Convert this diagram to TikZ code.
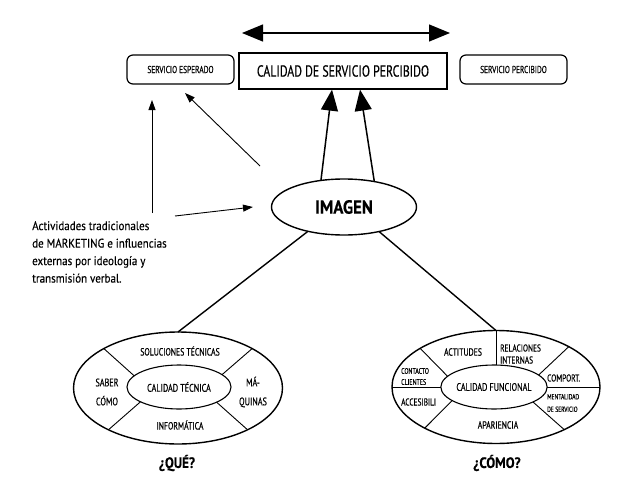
\documentclass[tikz,border=0pt]{standalone}
\usepackage{fontspec}
\setmainfont{PT Sans}
\newfontfamily\narrowfont{PT Sans}[FakeStretch=0.74,FakeBold=0.4]
\newfontfamily\slimfont{PT Sans}[FakeStretch=0.88,FakeBold=0.3]
\usetikzlibrary{arrows.meta,shapes.geometric,calc}

\tikzset{
  bigtip/.style={-{Triangle[length=21pt,width=17pt]}, line width=1.5pt},
  thintip/.style={-{Triangle[length=10pt,width=7pt]}, line width=0.9pt},
  link/.style={line width=1.4pt},
  divider/.style={line width=0.9pt},
  sidebox/.style={draw, rounded corners=6pt, line width=1.2pt, minimum width=107pt,
    minimum height=29pt, inner sep=0pt, font=\narrowfont\fontsize{10}{11}\selectfont},
  mainbox/.style={draw, line width=1.3pt, minimum width=208pt, minimum height=36pt,
    inner sep=0pt, font=\narrowfont\fontsize{16}{18}\selectfont},
  ring/.style={draw, ellipse, line width=1.4pt, inner sep=0pt, outer sep=0pt},
  lbl/.style={inner sep=0pt, font=\narrowfont\fontsize{10.5}{12}\selectfont, align=center},
  tiny/.style={inner sep=0pt, font=\narrowfont\fontsize{8}{11}\selectfont, align=left},
  question/.style={inner sep=0pt, font=\slimfont\bfseries\fontsize{15}{17}\selectfont}
}

\begin{document}
\begin{tikzpicture}[x=1pt,y=-1pt]
\useasboundingbox (0,0) rectangle (624,479);

% --- top: expected vs perceived service
\coordinate (dl) at (242,33);
\coordinate (dr) at (450,33);
\draw[{Triangle[length=21pt,width=17pt]}-{Triangle[length=21pt,width=17pt]}, line width=1.3pt] (dl) -- (dr);

\node[sidebox] (esp) at (180.5,69.5) {SERVICIO ESPERADO};
\node[mainbox] (cal) at (343,71) {CALIDAD DE SERVICIO PERCIBIDO};
\node[sidebox] (per) at (513.5,69.5) {SERVICIO PERCIBIDO};

% --- image
\node[ring, minimum width=145pt, minimum height=56pt,
      font=\slimfont\bfseries\fontsize{19}{21}\selectfont] (img) at (344,207) {IMAGEN};

\draw[bigtip] (img.131) -- ($(cal.south)+(-11,0)$);
\draw[bigtip] (img.40) -- ($(cal.south)+(17,0)$);

% --- external influences
\node[anchor=north west, inner sep=0pt, align=left,
      font=\slimfont\fontsize{12.5}{17.5}\selectfont] (act) at (32,221)
  {Actividades tradicionales\\de MARKETING e influencias\\externas por ideología y\\transmisión verbal.};

\coordinate (v0) at (152,213);
\coordinate (v1) at (152,100);
\coordinate (h0) at (175,216);
\coordinate (h1) at (253,207);
\coordinate (d0) at (260,166);
\coordinate (d1) at (185,93);
\draw[thintip] (v0) -- (v1);
\draw[thintip] (h0) -- (h1);
\draw[thintip] (d0) -- (d1);

% --- technical quality
\node[ring, minimum width=209pt, minimum height=112pt] (lo) at (178,388) {};
\node[ring, minimum width=104pt, minimum height=44pt, line width=1.1pt,
      font=\narrowfont\fontsize{11}{12}\selectfont] (li) at (179,387) {CALIDAD TÉCNICA};

\draw[link] (img.214) -- (lo.north);

\draw[divider] (lo.152) -- (li.166);
\draw[divider] (lo.28) -- (li.16);
\draw[divider] (lo.211) -- (li.201);
\draw[divider] (lo.329) -- (li.338);

\node[lbl] (sol) at (180,351) {SOLUCIONES TÉCNICAS};
\node[lbl, font=\narrowfont\fontsize{11}{19}\selectfont] (sab) at (107,392) {SABER\\CÓMO};
\node[lbl, font=\narrowfont\fontsize{11}{19}\selectfont] (maq) at (253,392) {MÁ-\\QUINAS};
\node[lbl] (inf) at (180,425) {INFORMÁTICA};

% --- functional quality
\node[ring, minimum width=208pt, minimum height=113pt] (ro) at (496,387) {};
\node[ring, minimum width=100pt, minimum height=44pt, line width=1.1pt,
      font=\narrowfont\fontsize{11}{12}\selectfont] (ri) at (494,387) {CALIDAD FUNCIONAL};

\draw[link] (img.325) -- (ro.north);

\draw[divider] (ro.north) -- (ro.north |- ri.north);
\draw[divider] (ro.west) -- (ri.west);
\draw[divider] (ri.east) -- (ro.east);
\draw[divider] (ro.153) -- (ri.167);
\draw[divider] (ro.210) -- (ri.198);
\draw[divider] (ro.29.5) -- (ri.15);
\draw[divider] (ro.328) -- (ri.339);

\node[lbl] (actd) at (463,352) {ACTITUDES};
\node[lbl, align=left, anchor=west, font=\narrowfont\fontsize{10}{12}\selectfont] (rel) at (500,354) {RELACIONES\\INTERNAS};
\node[tiny, anchor=west] (con) at (401,376.5) {CONTACTO\\CLIENTES};
\node[lbl, anchor=west, font=\narrowfont\fontsize{10}{12}\selectfont] (acc) at (401,402) {ACCESIBILI};
\node[lbl, anchor=west, font=\narrowfont\fontsize{10}{12}\selectfont] (com) at (547,378) {COMPORT.};
\node[tiny, anchor=west, font=\narrowfont\fontsize{7.5}{12.5}\selectfont] (men) at (547,403) {MENTALIDAD\\DE SERVICIO};
\node[lbl] (apa) at (498,425) {APARIENCIA};

% --- questions
\node[question] (que) at (177,463) {¿QUÉ?};
\node[question] (como) at (497,463) {¿CÓMO?};
\end{tikzpicture}
\end{document}
